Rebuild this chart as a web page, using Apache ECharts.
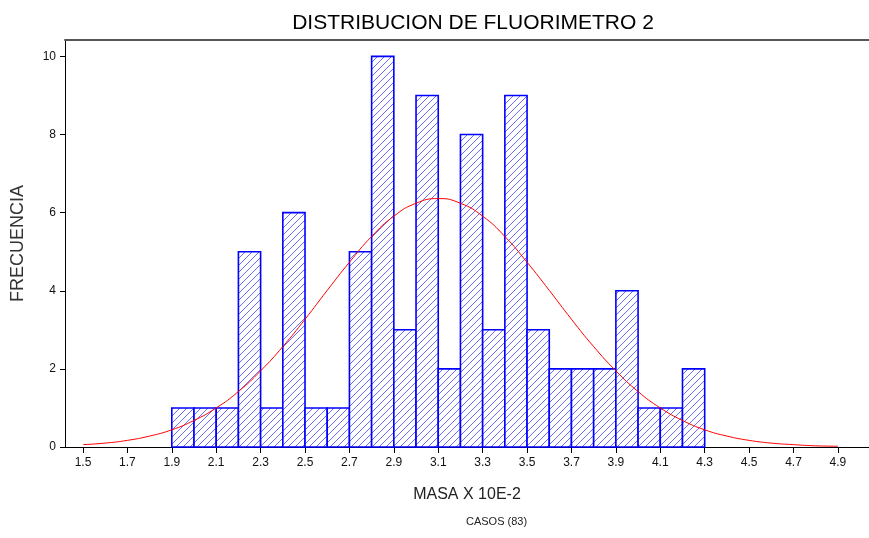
<!DOCTYPE html>
<html>
<head>
<meta charset="utf-8">
<script src="https://cdn.jsdelivr.net/npm/echarts@6/dist/echarts.min.js"></script>
<style>
  html, body { margin: 0; padding: 0; background: #fff; }
  #chart { width: 869px; height: 538px; }
</style>
</head>
<body>
<div id="chart"></div>
<script>
// histogram bins (left edge of each 0.1 wide bin) and counts
const binStarts = [1.9, 2.0, 2.1, 2.2, 2.3, 2.4, 2.5, 2.6, 2.7, 2.8, 2.9, 3.0,
  3.1, 3.2, 3.3, 3.4, 3.5, 3.6, 3.7, 3.8, 3.9, 4.0, 4.1, 4.2];
const counts = [1, 1, 1, 5, 1, 6, 1, 1, 5, 10, 3, 9,
  2, 8, 3, 9, 3, 2, 2, 2, 4, 1, 1, 2];
const binWidth = 0.1;

// red fitted curve
const curveX = [1.5, 1.6, 1.7, 1.8, 1.9, 2.0, 2.1, 2.2, 2.3, 2.4, 2.5, 2.6, 2.7,
  2.8, 2.9, 3.0, 3.1, 3.2, 3.3, 3.4, 3.5, 3.6, 3.7, 3.8, 3.9, 4.0, 4.1, 4.2,
  4.3, 4.4, 4.5, 4.6, 4.7, 4.8, 4.9];
const curveY = [0.06, 0.10, 0.17, 0.28, 0.44, 0.68, 1.0, 1.42, 1.95, 2.57, 3.27,
  4.01, 4.73, 5.39, 5.91, 6.24, 6.36, 6.24, 5.91, 5.39, 4.73, 4.01, 3.27,
  2.57, 1.95, 1.42, 1.0, 0.68, 0.44, 0.28, 0.17, 0.10, 0.06, 0.03, 0.02];

const xTicks = [1.5, 1.7, 1.9, 2.1, 2.3, 2.5, 2.7, 2.9, 3.1, 3.3, 3.5, 3.7,
  3.9, 4.1, 4.3, 4.5, 4.7, 4.9];
const yTicks = [0, 2, 4, 6, 8, 10];

const chart = echarts.init(document.getElementById("chart"));

// diagonal hatch fill
const hatch = document.createElement("canvas");
hatch.width = 7;
hatch.height = 7;
const hctx = hatch.getContext("2d");
hctx.fillStyle = "#ffffff";
hctx.fillRect(0, 0, 7, 7);
hctx.strokeStyle = "#5a5aff";
hctx.lineWidth = 0.9;
hctx.beginPath();
hctx.moveTo(-1, 8); hctx.lineTo(8, -1);
hctx.moveTo(-4, 4); hctx.lineTo(4, -4);
hctx.moveTo(3, 11); hctx.lineTo(11, 3);
hctx.stroke();

const font = "Liberation Sans, Arial, sans-serif";

const options = {
  animation: false,
  title: {
    text: "DISTRIBUCION DE FLUORIMETRO 2",
    left: 468,
    textAlign: "center",
    top: 8,
    textStyle: { fontFamily: font, fontSize: 21, fontWeight: "normal", color: "#000" },
  },
  grid: { left: 65, right: 0, top: 40, bottom: 91, containLabel: false },
  xAxis: [
    {
      type: "value",
      min: 1.419,
      max: 5.04,
      name: "MASA X 10E-2",
      nameLocation: "middle",
      nameGap: 40,
      nameTextStyle: { fontFamily: font, fontSize: 16, color: "#222" },
      axisLine: { lineStyle: { color: "#000", width: 1 } },
      axisTick: { customValues: xTicks, length: 6, lineStyle: { color: "#000" } },
      axisLabel: {
        customValues: xTicks,
        formatter: (v) => v.toFixed(1),
        fontFamily: font,
        fontSize: 12,
        color: "#111",
        margin: 10,
      },
      splitLine: { show: false },
    },
    {
      type: "value",
      position: "top",
      min: 1.419,
      max: 5.04,
      axisLine: { show: true, lineStyle: { color: "#555", width: 2 } },
      axisTick: { show: false },
      axisLabel: { show: false },
      splitLine: { show: false },
    },
  ],
  yAxis: {
    type: "value",
    min: 0,
    max: 10.42,
    name: "FRECUENCIA",
    nameLocation: "middle",
    nameRotate: 90,
    nameGap: 38,
    nameTextStyle: { fontFamily: font, fontSize: 18, color: "#333" },
    axisLine: { show: true, lineStyle: { color: "#000", width: 1 } },
    axisTick: { show: true, customValues: yTicks, length: 5, lineStyle: { color: "#000" } },
    axisLabel: { customValues: yTicks, fontFamily: font, fontSize: 12, color: "#111", margin: 9 },
    splitLine: { show: false },
  },
  graphic: [
    {
      type: "text",
      left: 466,
      top: 516,
      style: {
        text: "CASOS (83)",
        fontFamily: font,
        fontSize: 11,
        fill: "#222",
        textAlign: "center",
      },
    },
  ],
  series: [
    {
      type: "custom",
      data: binStarts.map((s, i) => [s, counts[i]]),
      renderItem: (params, api) => {
        const p0 = api.coord([api.value(0), 0]);
        const p1 = api.coord([api.value(0) + binWidth, api.value(1)]);
        return {
          type: "rect",
          shape: { x: p0[0], y: p1[1], width: p1[0] - p0[0], height: p0[1] - p1[1] },
          style: {
            fill: { image: hatch, repeat: "repeat" },
            stroke: "#0000ff",
            lineWidth: 1.6,
          },
        };
      },
      z: 2,
    },
    {
      type: "line",
      data: curveX.map((x, i) => [x, curveY[i]]),
      smooth: true,
      symbol: "none",
      lineStyle: { color: "#ff0000", width: 1 },
      z: 3,
    },
  ],
};

chart.setOption(options);
</script>
</body>
</html>
